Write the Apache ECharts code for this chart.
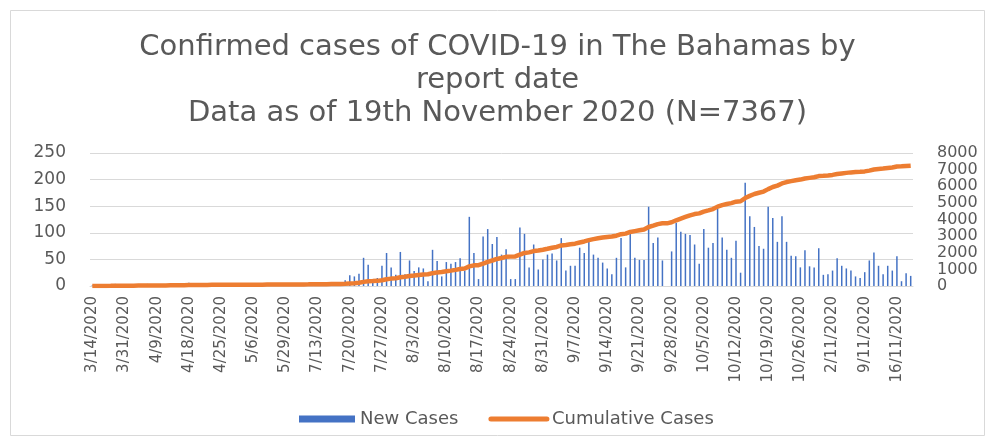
<!DOCTYPE html>
<html>
<head>
<meta charset="utf-8">
<script src="https://cdn.jsdelivr.net/npm/echarts@6/dist/echarts.min.js"></script>
<style>
  html, body { margin: 0; padding: 0; background: #fff; }
  #chart { width: 995px; height: 441px; }
</style>
</head>
<body>
<div id="chart"></div>
<script>
// report dates before the daily series starts (only every 7th one is shown)
const earlyDates = [
  '3/14/2020', '3/16/2020', '3/19/2020', '3/21/2020', '3/24/2020', '3/26/2020', '3/28/2020',
  '3/31/2020', '4/1/2020', '4/2/2020', '4/3/2020', '4/5/2020', '4/6/2020', '4/8/2020',
  '4/9/2020', '4/10/2020', '4/12/2020', '4/13/2020', '4/14/2020', '4/15/2020', '4/16/2020',
  '4/18/2020', '4/19/2020', '4/20/2020', '4/21/2020', '4/22/2020', '4/23/2020', '4/24/2020',
  '4/25/2020', '4/26/2020', '4/28/2020', '4/29/2020', '4/30/2020', '5/2/2020', '5/4/2020',
  '5/6/2020', '5/8/2020', '5/10/2020', '5/13/2020', '5/16/2020', '5/20/2020', '5/25/2020',
  '5/29/2020', '6/5/2020', '6/12/2020', '6/20/2020', '6/28/2020', '7/5/2020', '7/9/2020'
]

// daily report dates 7/13/2020 .. 19/11/2020 (November written day first, as in source)
const dailyDates = []
for (let d = new Date(2020, 6, 13); d <= new Date(2020, 10, 19); d.setDate(d.getDate() + 1)) {
  const m = d.getMonth() + 1, day = d.getDate()
  dailyDates.push(m === 11 ? day + '/11/2020' : m + '/' + day + '/2020')
}
const dates = earlyDates.concat(dailyDates)

// new cases per report date
const earlyCases = [
  1, 3, 1, 2, 1, 4, 2, 3, 2, 1, 3, 2, 4, 1, 2, 3, 2, 5, 2, 3, 4,
  6, 3, 2, 1, 2, 3, 1, 2, 1, 1, 2, 1, 0, 1, 2, 1, 1, 2, 1, 1, 2, 3, 2, 1, 2, 1, 2, 3,
  3, 4, 2, 5, 3, 4
]
const julyAugCases = [
  11, 20, 18, 23, 53, 40, 7, 15, 38, 62, 35, 21, 64, 22, 48, 28, 35, 33, 9, 68,
  47, 18, 45, 42, 45, 52, 29, 130, 62, 13,
  93, 107, 79, 92, 59, 69, 13, 13, 110, 98, 35, 78, 31, 50, 59, 61, 48, 90, 29, 38
]
const sepOctCases = [
  38, 72, 62, 83, 59, 53, 44, 33, 22, 53, 90, 35, 98, 53, 49, 49, 149, 81, 91, 48,
  0, 65, 119, 102, 98, 96, 78, 42, 107, 72, 81, 146, 91, 68, 53, 85, 25, 194, 131, 111,
  75, 70, 149, 128, 83, 131, 83, 57, 56, 35, 67, 37, 35, 71
]
const novCases = [
  21, 22, 29, 52, 38, 33, 29, 18, 15, 26, 48, 63, 38, 22, 38, 29, 56, 9, 24, 19
]
const newCases = earlyCases.concat(julyAugCases, sepOctCases, novCases)

// cumulative cases = running total of new cases
const cumulative = []
newCases.reduce((acc, v) => { cumulative.push(acc + v); return acc + v }, 0)

const leftTicks = { min: 0, max: 250, interval: 50 }
const rightTicks = { min: 0, max: 8000, interval: 1000 }

const font = 'DejaVu Sans'
const textColor = '#595959'

const chart = echarts.init(document.getElementById('chart'), null, { renderer: 'canvas' })

chart.setOption({
  animation: false,
  backgroundColor: '#fff',
  textStyle: { fontFamily: font },
  graphic: [{
    type: 'rect',
    shape: { x: 10.5, y: 10.5, width: 974, height: 425 },
    style: { fill: 'none', stroke: '#d9d9d9', lineWidth: 1 },
    silent: true
  }],
  title: {
    text: 'Confirmed cases of COVID-19 in The Bahamas by\nreport date\nData as of 19th November 2020 (N=7367)',
    left: 'center',
    top: 26,
    textStyle: {
      fontFamily: font,
      fontSize: 29,
      fontWeight: 'normal',
      color: textColor,
      lineHeight: 33
    }
  },
  legend: {
    left: 294,
    top: 405,
    itemWidth: 56,
    itemHeight: 7,
    itemGap: 30,
    textStyle: { fontFamily: font, fontSize: 18, color: textColor },
    data: [
      { name: 'New Cases', icon: 'rect' },
      { name: 'Cumulative Cases', itemStyle: { opacity: 0 }, lineStyle: { width: 5, cap: 'round' } }
    ]
  },
  grid: { left: 90, right: 82, top: 153, bottom: 155 },
  xAxis: {
    type: 'category',
    data: dates,
    boundaryGap: true,
    axisLine: { lineStyle: { color: '#d9d9d9' } },
    axisTick: { show: false },
    axisLabel: {
      interval: 6,
      rotate: 90,
      margin: 10,
      fontFamily: font,
      fontSize: 15,
      color: textColor
    }
  },
  yAxis: [
    {
      type: 'value',
      min: leftTicks.min,
      max: leftTicks.max,
      interval: leftTicks.interval,
      axisLine: { show: false },
      axisTick: { show: false },
      axisLabel: { margin: 24, fontFamily: font, fontSize: 17, color: textColor },
      splitLine: { lineStyle: { color: '#d9d9d9', width: 1 } }
    },
    {
      type: 'value',
      min: rightTicks.min,
      max: rightTicks.max,
      interval: rightTicks.interval,
      axisLine: { show: false },
      axisTick: { show: false },
      axisLabel: {
        margin: 24,
        fontFamily: font,
        fontSize: 16,
        lineHeight: 12,
        color: textColor,
        showMinLabel: true,
        showMaxLabel: true,
        hideOverlap: false,
        formatter: (v) => String(v)
      },
      splitLine: { show: false }
    }
  ],
  series: [
    {
      name: 'New Cases',
      type: 'bar',
      data: newCases,
      barWidth: 1.5,
      itemStyle: { color: '#4472C4' }
    },
    {
      name: 'Cumulative Cases',
      type: 'line',
      yAxisIndex: 1,
      data: cumulative,
      symbol: 'none',
      lineStyle: { color: '#ED7D31', width: 4.5 },
      itemStyle: { color: '#ED7D31' }
    }
  ]
})
</script>
</body>
</html>
